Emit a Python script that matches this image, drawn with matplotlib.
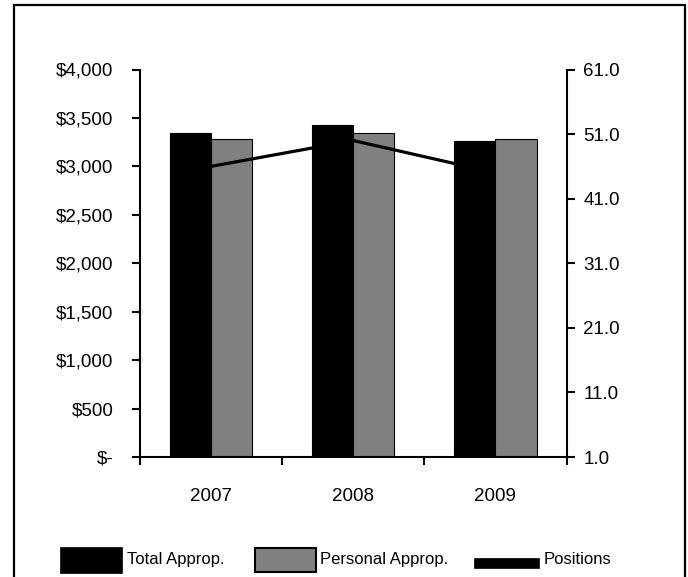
import numpy as np
import matplotlib
matplotlib.use("Agg")
import matplotlib.pyplot as plt
from matplotlib.patches import Rectangle

plt.rcParams['font.family'] = ['Liberation Sans', 'DejaVu Sans']

# appropriations (thousands of $) and position counts by fiscal year
years = ['2007', '2008', '2009']
total_approp = [3344, 3426, 3264]
personal_approp = [3282, 3340, 3278]
positions = [46, 50, 45]

left_ticks = [0, 500, 1000, 1500, 2000, 2500, 3000, 3500, 4000]
left_labels = ['$-', '$500', '$1,000', '$1,500', '$2,000', '$2,500',
               '$3,000', '$3,500', '$4,000']
right_ticks = [1.0, 11.0, 21.0, 31.0, 41.0, 51.0, 61.0]

W, H = 688, 577
fig = plt.figure(figsize=(W / 100, H / 100), dpi=100)

def px(x, y):
    # pixel position (from top-left) -> figure fraction
    return x / W, 1 - y / H

x0, y1 = px(140, 69.5)
x1, y0 = px(566.5, 457)
ax = fig.add_axes([x0, y0, x1 - x0, y1 - y0])
ax2 = ax.twinx()

x = np.arange(len(years))
bw = 0.29
ax.bar(x - bw / 2, total_approp, bw, color='black', edgecolor='black', lw=0.8, zorder=2)
ax.bar(x + bw / 2, personal_approp, bw, color='#808080', edgecolor='black', lw=0.8, zorder=2)
ax2.plot(x, positions, color='black', lw=2.3, solid_capstyle='butt', zorder=3)

ax.set_xlim(-0.5, 2.5)
ax.set_ylim(0, 4000)
ax2.set_ylim(1, 61)

ax.set_yticks(left_ticks)
ax.set_yticklabels(left_labels)
ax2.set_yticks(right_ticks)
ax2.set_yticklabels(['%.1f' % v for v in right_ticks])

# year labels sit between the boundary ticks
ax.set_xticks([-0.5, 0.5, 1.5, 2.5])
ax.set_xticklabels([])
ax.set_xticks(x, minor=True)
ax.set_xticklabels(years, minor=True, fontsize=13.5)
ax.tick_params(axis='x', which='major', direction='out', length=6, width=1.5)
ax.tick_params(axis='x', which='minor', length=0, pad=22)
ax.tick_params(axis='y', direction='out', length=6, width=1.5, pad=13, labelsize=13.5)
ax2.tick_params(axis='y', direction='out', length=6, width=1.5, pad=6, labelsize=13.5)

for a in (ax, ax2):
    a.spines['top'].set_visible(False)
    for s in ('left', 'right', 'bottom'):
        a.spines[s].set_linewidth(1.5)
ax2.spines['left'].set_visible(False)
ax2.spines['bottom'].set_visible(False)
ax.spines['right'].set_visible(False)
ax.set_zorder(ax2.get_zorder() - 1)
ax.patch.set_visible(False)
ax2.patch.set_visible(False)

# outer frame
fx0, fy0 = px(14, 5)
fig.add_artist(Rectangle((fx0, -0.02), px(685, 0)[0] - fx0, fy0 + 0.02,
                         transform=fig.transFigure, fill=False,
                         edgecolor='black', lw=1.6))

# legend row along the bottom
baseline = 564

def swatch(xa, xb, ya, yb, color, lw):
    ax_, ay_ = px(xa, yb)
    bx_, by_ = px(xb, ya)
    fig.add_artist(Rectangle((ax_, ay_), bx_ - ax_, by_ - ay_,
                             transform=fig.transFigure, facecolor=color,
                             edgecolor='black', lw=lw))

swatch(60, 122, 547, 573, 'black', 0.5)
fig.text(*px(127, baseline), 'Total Approp.', fontsize=12, va='baseline')
swatch(255, 316, 548, 572, '#808080', 1.5)
fig.text(*px(320, baseline), 'Personal Approp.', fontsize=12, va='baseline')
swatch(474, 539, 558, 568, 'black', 0.5)
fig.text(*px(544, baseline), 'Positions', fontsize=12, va='baseline')

fig.savefig('out.png', dpi=100)
